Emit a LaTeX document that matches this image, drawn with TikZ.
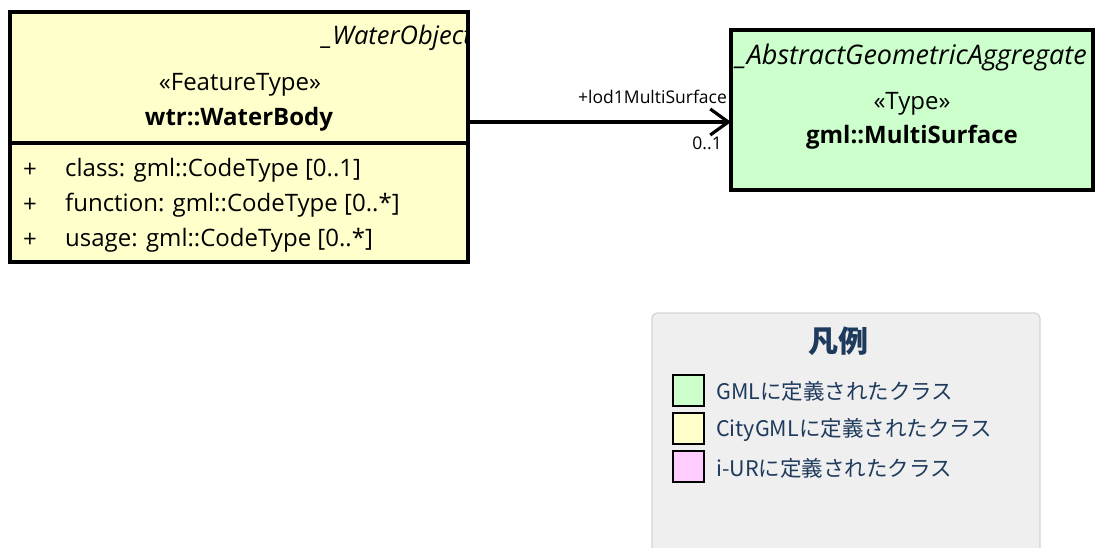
\documentclass[tikz,border=0pt]{standalone}
\usepackage{fontspec}
\setmainfont{Open Sans}
\newfontfamily\jpfont{Noto Sans CJK JP}
\usetikzlibrary{arrows.meta}
\definecolor{cyellow}{HTML}{FFFFCC}
\definecolor{cgreen}{HTML}{CCFFCC}
\definecolor{cpink}{HTML}{FFCCFF}
\definecolor{legfill}{HTML}{EFEFEF}
\definecolor{legline}{HTML}{D4D4D4}
\definecolor{legtext}{HTML}{1E3A5C}
\tikzset{
  classbox/.style={draw=black, line width=3.4pt},
  txt/.style={inner sep=0pt, font=\fontsize{24}{28}\selectfont},
  small/.style={inner sep=0pt, font=\fontsize{17.5}{20}\selectfont},
  legtxt/.style={inner sep=0pt, anchor=west, text=legtext, font=\jpfont\fontsize{21.5}{24}\selectfont},
  swatch/.style={draw=black, line width=2pt, minimum width=31pt, minimum height=31pt, inner sep=0pt},
}
\begin{document}
\begin{tikzpicture}[x=1pt,y=-1pt]
\useasboundingbox (0,0) rectangle (1097,548);
% WaterBody class
\path[classbox, fill=cyellow] (10,12) rectangle (468,262);
\draw[line width=3.4pt] (10,143) -- (468,143);
\begin{scope}
\clip (10,12) rectangle (467,262);
\node[txt, anchor=east, font=\fontsize{25.5}{28}\selectfont\itshape] (wo) at (472,38) {\_WaterObject};
\end{scope}
\node[txt] (ft) at (240,85) {«FeatureType»};
\node[txt, font=\fontsize{24}{28}\selectfont\bfseries] (wb) at (239,119) {wtr::WaterBody};
\node[txt, anchor=west] (p1) at (23,170) {+};
\node[txt, anchor=west] (p2) at (23,205) {+};
\node[txt, anchor=west] (p3) at (23,240) {+};
\node[txt, anchor=west] (a1) at (65,170) {class: gml::CodeType [0..1]};
\node[txt, anchor=west] (a2) at (65,205) {function: gml::CodeType [0..*]};
\node[txt, anchor=west] (a3) at (65,240) {usage: gml::CodeType [0..*]};
\coordinate (wbr) at (468,122);
% MultiSurface class
\path[classbox, fill=cgreen] (731,30) rectangle (1093,190);
\begin{scope}
\clip (731,30) rectangle (1092,190);
\node[txt, anchor=west, font=\fontsize{27}{30}\selectfont\itshape] (aga) at (736,57) {\_AbstractGeometricAggregate};
\end{scope}
\node[txt] (ty) at (912,104) {«Type»};
\node[txt, font=\fontsize{24}{28}\selectfont\bfseries] (ms) at (912,137) {gml::MultiSurface};
\coordinate (msl) at (731,122);
% association
\draw[line width=3.2pt, -{Straight Barb[length=18pt,width=26pt,line width=3.2pt]}] (wbr) -- (msl);
\node[small, anchor=east] (rl) at (727,97) {+lod1MultiSurface};
\node[small, anchor=east] (mu) at (722,143) {0..1};
% legend
\path[draw=legline, fill=legfill, line width=1.2pt, rounded corners=5pt] (652,313) rectangle (1040,560);
\node[inner sep=0pt, text=legtext, font=\jpfont\fontsize{30}{34}\selectfont\bfseries] (lt) at (838,341) {凡例};
\node[swatch, fill=cgreen] (s1) at (688,390) {};
\node[swatch, fill=cyellow] (s2) at (688,428) {};
\node[swatch, fill=cpink] (s3) at (688,466) {};
\node[legtxt] (l1) at (716,391) {GMLに定義されたクラス};
\node[legtxt] (l2) at (716,430) {CityGMLに定義されたクラス};
\node[legtxt] (l3) at (716,468) {i-URに定義されたクラス};
\end{tikzpicture}
\end{document}
